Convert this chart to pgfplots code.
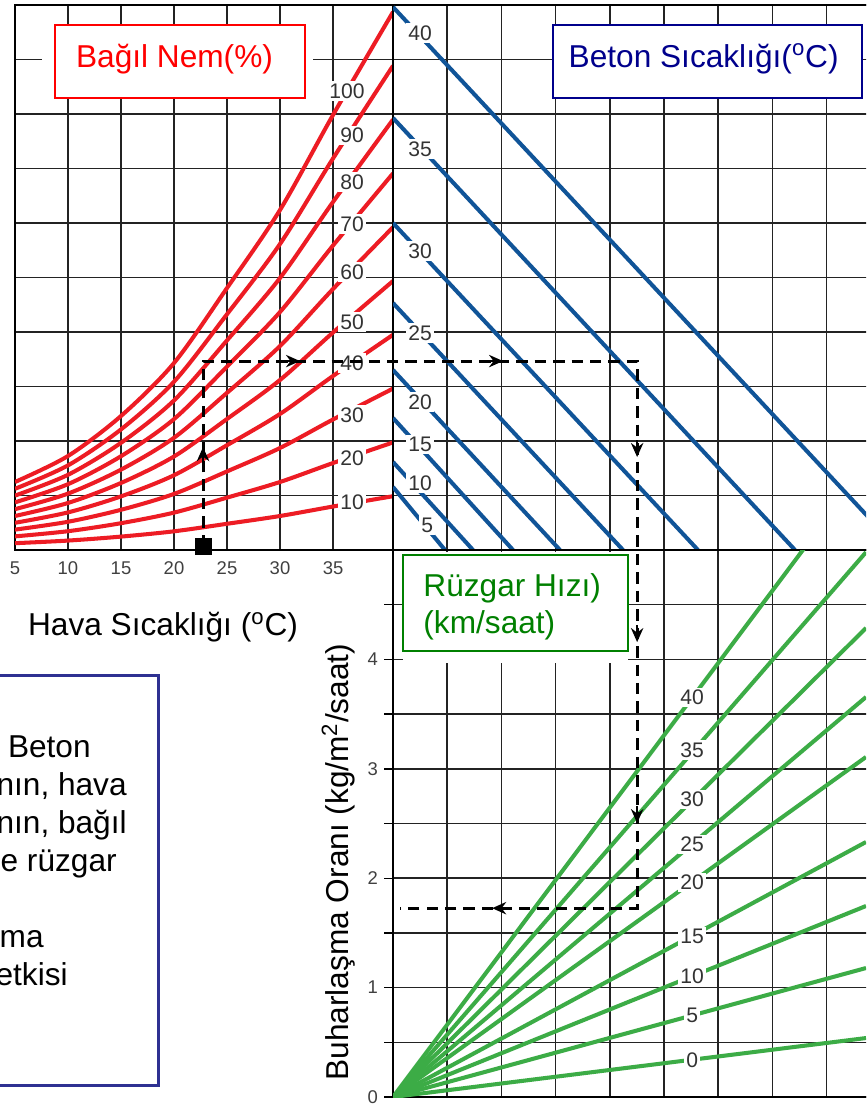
\documentclass[border=0pt]{standalone}
\usepackage{fontspec}
\setmainfont{Liberation Sans}
\usepackage{pgfplots}
\usepackage{pgfplotstable}
\pgfplotsset{compat=1.18}
\usetikzlibrary{arrows.meta}

\definecolor{rhred}{RGB}{237,28,36}
\definecolor{cblue}{RGB}{16,84,152}
\definecolor{wgreen}{RGB}{60,172,70}
\definecolor{navytxt}{RGB}{0,0,140}
\definecolor{boxblue}{RGB}{46,49,146}
\definecolor{gtxt}{RGB}{0,128,0}
\definecolor{gridc}{RGB}{35,35,35}

% relative humidity curves: y (grid units) vs air temperature
\pgfplotstableread{
T     r10   r20   r30   r40   r50   r60   r70   r80   r90   r100
5     0.125 0.250 0.374 0.499 0.624 0.749 0.874 0.998 1.123 1.248
10    0.173 0.345 0.518 0.690 0.863 1.035 1.208 1.380 1.553 1.725
15    0.246 0.492 0.738 0.984 1.230 1.475 1.721 1.967 2.213 2.459
20    0.343 0.686 1.029 1.372 1.716 2.059 2.402 2.745 3.088 3.431
25    0.481 0.961 1.442 1.923 2.404 2.884 3.365 3.846 4.326 4.807
30    0.624 1.248 1.872 2.496 3.120 3.743 4.367 4.991 5.615 6.239
35    0.798 1.596 2.395 3.193 3.991 4.789 5.587 6.386 7.184 7.982
40.66 0.987 1.974 2.962 3.949 4.936 5.923 6.910 7.898 8.885 9.872
}\rhtable

\tikzset{lbl/.style={font=\fontsize{12}{14}\selectfont, text=black!80, fill=white, inner sep=1.3pt}}
\pgfplotsset{
  nomo/.style={scale only axis, anchor=south west,
    axis line style={line width=1.6pt,black},
    grid=major, major grid style={line width=0.9pt,gridc},
    tick style={draw=none},
    /pgf/number format/assume math mode=true,
    tick label style={font=\fontsize{10.5}{12}\selectfont, text=black!75}},
  rh/.style={rhred, line width=2.3pt, smooth},
  cb/.style={cblue, line width=2.3pt},
  wg/.style={wgreen, line width=2.3pt},
}

\begin{document}
\begin{tikzpicture}
\useasboundingbox (0,0) rectangle (17.32,-22.12);
\clip (0,0) rectangle (17.32,-22.12);
\fill[white] (0,0) rectangle (17.32,-22.12);

% ---------- top-left: air temperature / relative humidity
\begin{axis}[nomo, at={(0.30cm,-11.00cm)}, width=7.56cm, height=10.9cm,
  xmin=5, xmax=40.66, ymin=0, ymax=10,
  xtick={5,10,...,35}, ytick={0,1,...,10}, yticklabel=\empty,
  xticklabel style={yshift=-3pt},
  clip mode=individual]
\addplot[rh] table[x=T,y=r10] {\rhtable};
\addplot[rh] table[x=T,y=r20] {\rhtable};
\addplot[rh] table[x=T,y=r30] {\rhtable};
\addplot[rh] table[x=T,y=r40] {\rhtable};
\addplot[rh] table[x=T,y=r50] {\rhtable};
\addplot[rh] table[x=T,y=r60] {\rhtable};
\addplot[rh] table[x=T,y=r70] {\rhtable};
\addplot[rh] table[x=T,y=r80] {\rhtable};
\addplot[rh] table[x=T,y=r90] {\rhtable};
\addplot[rh] table[x=T,y=r100] {\rhtable};
\node[lbl] at (36.32,8.42) {100};
\node[lbl] at (36.8,7.61) {90};
\node[lbl] at (36.8,6.75) {80};
\node[lbl] at (36.8,5.98) {70};
\node[lbl] at (36.8,5.10) {60};
\node[lbl] at (36.8,4.18) {50};
\node[lbl] at (36.8,3.43) {40};
\node[lbl] at (36.8,2.48) {30};
\node[lbl] at (36.8,1.69) {20};
\node[lbl] at (36.8,0.88) {10};
\addplot[only marks, mark=square*, mark size=4.6pt, black] coordinates {(22.74,0.07)};
\end{axis}

% ---------- top-right: concrete temperature
\begin{axis}[nomo, at={(7.86cm,-11.00cm)}, width=9.756cm, height=10.9cm,
  xmin=0, xmax=9, ymin=0, ymax=10,
  xtick={0,...,9}, ytick={0,...,10}, xticklabel=\empty, yticklabel=\empty]
\addplot[cb] coordinates {(0,9.963) (9.336,0)};
\addplot[cb] coordinates {(0,7.927) (7.417,0)};
\addplot[cb] coordinates {(0,6.000) (5.627,0)};
\addplot[cb] coordinates {(0,4.532) (4.244,0)};
\addplot[cb] coordinates {(0,3.303) (3.081,0)};
\addplot[cb] coordinates {(0,2.422) (2.214,0)};
\addplot[cb] coordinates {(0,1.615) (1.476,0)};
\addplot[cb] coordinates {(0,1.156) (0.959,0)};
\node[lbl] at (0.5,9.49) {40};
\node[lbl] at (0.5,7.36) {35};
\node[lbl] at (0.5,5.49) {30};
\node[lbl] at (0.5,3.98) {25};
\node[lbl] at (0.5,2.72) {20};
\node[lbl] at (0.5,1.93) {15};
\node[lbl] at (0.5,1.23) {10};
\node[lbl] at (0.63,0.46) {5};
\end{axis}

% ---------- bottom-right: wind speed / evaporation rate
\begin{axis}[nomo, at={(7.86cm,-21.94cm)}, width=9.756cm, height=10.94cm,
  xmin=0, xmax=9, ymin=0, ymax=5,
  xtick={1,...,8}, xticklabel=\empty,
  ytick={0,...,4}, minor ytick={0.5,1.5,2.5,3.5,4.5},
  grid=both, minor grid style={line width=0.9pt,gridc},
  tick style={draw=black,line width=0.8pt}, xtick style={draw=none},
  major tick length=5pt, minor tick length=5pt,
  tick align=outside, ytick pos=left]
\addplot[wg] coordinates {(0,0) (8.727,0.539)};
\addplot[wg] coordinates {(0,0) (8.727,1.179)};
\addplot[wg] coordinates {(0,0) (8.727,1.746)};
\addplot[wg] coordinates {(0,0) (8.727,2.331)};
\addplot[wg] coordinates {(0,0) (8.727,3.108)};
\addplot[wg] coordinates {(0,0) (8.727,3.656)};
\addplot[wg] coordinates {(0,0) (8.727,4.287)};
\addplot[wg] coordinates {(0,0) (8.727,4.980)};
\addplot[wg] coordinates {(0,0) (8.727,5.770)};
\node[lbl] at (5.52,0.34) {0};
\node[lbl] at (5.52,0.75) {5};
\node[lbl] at (5.52,1.10) {10};
\node[lbl] at (5.52,1.47) {15};
\node[lbl] at (5.52,1.96) {20};
\node[lbl] at (5.52,2.31) {25};
\node[lbl] at (5.52,2.72) {30};
\node[lbl] at (5.52,3.17) {35};
\node[lbl] at (5.52,3.65) {40};
\end{axis}

% ---------- annotations in pixel coordinates
\begin{scope}[x=0.02cm,y=-0.02cm]
  % Bagil Nem box
  \fill[white] (42,25) rectangle (313,98);
  \draw[red, line width=1.1pt] (55,25) rectangle (305,98);
  \node[anchor=base, text=red, font=\fontsize{18}{21}\selectfont, inner sep=0pt] at (174.5,67) {Bağıl Nem(\%)};
  % Beton box
  \fill[white] (553,25) rectangle (862,98);
  \draw[navytxt, line width=1.1pt] (553,25) rectangle (862,98);
  \node[anchor=base, text=navytxt, font=\fontsize{18}{21}\selectfont, inner sep=0pt] at (703.5,67) {Beton Sıcaklığı(\textsuperscript{o}C)};
  % Wind box
  \fill[white] (403,552) rectangle (628,663);
  \draw[gtxt, line width=1.1pt] (403,555) rectangle (628,651);
  \node[anchor=base west, text=gtxt, font=\fontsize{18}{21}\selectfont, inner sep=0pt] at (423,596) {Rüzgar Hızı)};
  \node[anchor=base west, text=gtxt, font=\fontsize{18}{21}\selectfont, inner sep=0pt] at (423,633) {(km/saat)};
  % axis titles
  \node[anchor=base, font=\fontsize{18}{21}\selectfont, inner sep=0pt] at (163,635) {Hava Sıcaklığı (\textsuperscript{o}C)};
  \node[anchor=base, rotate=90, font=\fontsize{18}{21}\selectfont, inner sep=0pt] at (348,862) {Buharlaşma Oranı (kg/m\textsuperscript{2}/saat)};
  % caption box (cropped by the picture edge, as in the reference)
  \draw[boxblue, line width=1.7pt] (-20,675) rectangle (158,1085);
  \begin{scope}[every node/.style={anchor=base east, font=\fontsize{18}{21}\selectfont, inner sep=0pt}]
    \node at (91,757) {Beton};
    \node at (127,795) {nın, hava};
    \node at (127,833) {nın, bağıl};
    \node at (117,871) {e rüzgar};
    \node at (44,947) {şma};
    \node at (68,985) {etkisi};
  \end{scope}
  % example path
  \draw[black, line width=1.7pt, dash pattern=on 6.5pt off 4pt] (203,546) -- (203,361) -- (637,361) -- (637,908) -- (400,908);
  \begin{scope}[line width=1.4pt, -{Stealth[length=8pt,width=7pt]}]
    \draw (203,464) -- (203,447);
    \draw (283,361) -- (300,361);
    \draw (486,361) -- (503,361);
    \draw (637,440) -- (637,457);
    \draw (637,625) -- (637,642);
    \draw (637,806) -- (637,823);
    \draw (509,908) -- (492,908);
  \end{scope}
\end{scope}
\end{tikzpicture}
\end{document}
